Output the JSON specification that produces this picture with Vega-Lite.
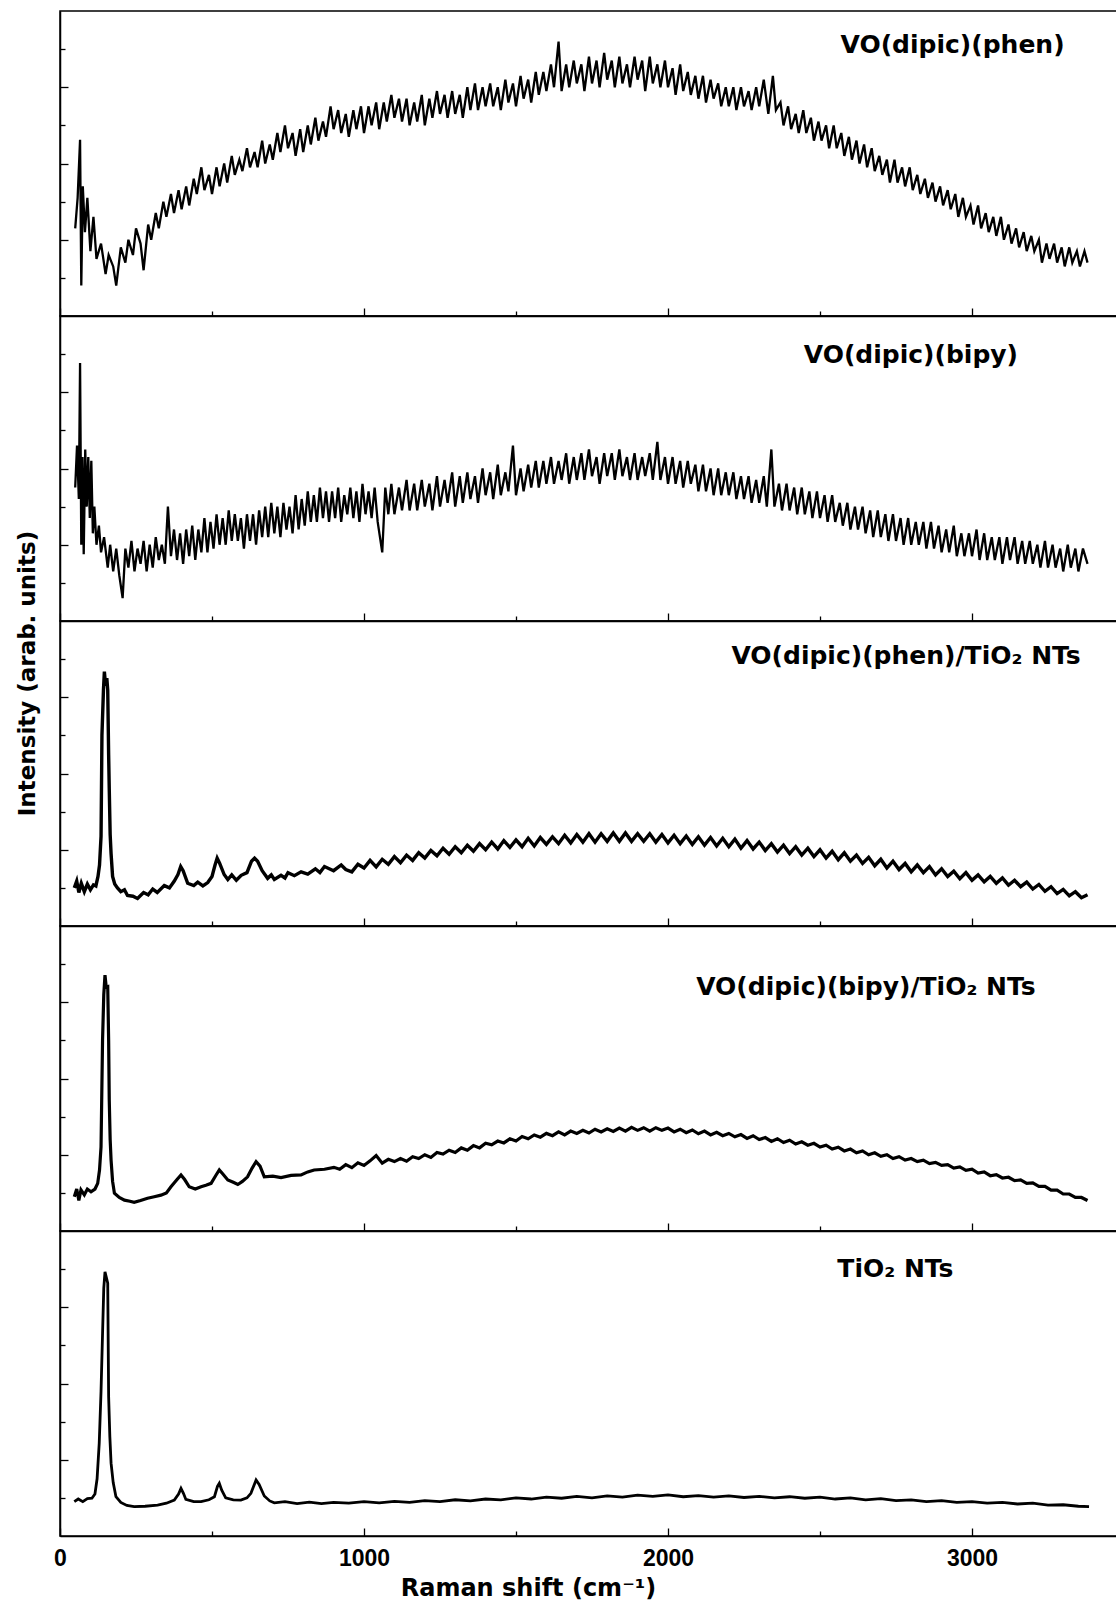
{
"$schema": "https://vega.github.io/schema/vega-lite/v6.json",
"padding": {"left": 15, "top": 10, "right": 0, "bottom": 5},
"background": "white",
"spacing": 0,
"bounds": "flush",
"config": {
  "view": {"stroke": "#000", "strokeWidth": 1.5},
  "axis": {"domainColor": "#000", "domainWidth": 1.5, "tickColor": "#000", "tickWidth": 1.3, "grid": false}
},
"datasets": {
"p1": [{"x":50,"y":2.3},{"x":58,"y":3.1},{"x":66,"y":4.62},{"x":70,"y":0.8},{"x":75,"y":3.4},{"x":82,"y":2.2},{"x":90,"y":3.1},{"x":100,"y":1.7},{"x":110,"y":2.6},{"x":120,"y":1.5},{"x":135,"y":1.9},{"x":150,"y":1.1},{"x":160,"y":1.6},{"x":175,"y":1.3},{"x":185,"y":0.8},{"x":200,"y":1.8},{"x":215,"y":1.4},{"x":225,"y":2.0},{"x":240,"y":1.6},{"x":250,"y":2.3},{"x":265,"y":1.9},{"x":275,"y":1.2},{"x":290,"y":2.4},{"x":300,"y":2.0},{"x":315,"y":2.7},{"x":325,"y":2.3},{"x":340,"y":3.0},{"x":350,"y":2.6},{"x":365,"y":3.2},{"x":375,"y":2.7},{"x":390,"y":3.3},{"x":400,"y":2.8},{"x":415,"y":3.4},{"x":425,"y":2.9},{"x":440,"y":3.6},{"x":450,"y":3.2},{"x":465,"y":3.9},{"x":475,"y":3.3},{"x":490,"y":3.7},{"x":500,"y":3.2},{"x":515,"y":3.9},{"x":525,"y":3.4},{"x":540,"y":4.0},{"x":550,"y":3.5},{"x":565,"y":4.2},{"x":575,"y":3.7},{"x":590,"y":4.1},{"x":600,"y":3.8},{"x":615,"y":4.4},{"x":625,"y":3.9},{"x":640,"y":4.3},{"x":650,"y":3.9},{"x":665,"y":4.6},{"x":675,"y":4.0},{"x":690,"y":4.5},{"x":700,"y":4.1},{"x":715,"y":4.8},{"x":725,"y":4.3},{"x":740,"y":5.0},{"x":750,"y":4.4},{"x":765,"y":4.8},{"x":775,"y":4.2},{"x":790,"y":4.9},{"x":800,"y":4.3},{"x":815,"y":5.0},{"x":825,"y":4.5},{"x":840,"y":5.2},{"x":850,"y":4.6},{"x":865,"y":5.1},{"x":875,"y":4.7},{"x":890,"y":5.5},{"x":900,"y":4.9},{"x":915,"y":5.4},{"x":925,"y":4.8},{"x":940,"y":5.3},{"x":950,"y":4.7},{"x":965,"y":5.4},{"x":975,"y":4.9},{"x":990,"y":5.5},{"x":1000,"y":4.8},{"x":1015,"y":5.5},{"x":1025,"y":5.0},{"x":1040,"y":5.6},{"x":1050,"y":4.9},{"x":1065,"y":5.6},{"x":1075,"y":5.1},{"x":1090,"y":5.8},{"x":1100,"y":5.2},{"x":1115,"y":5.7},{"x":1125,"y":5.1},{"x":1140,"y":5.7},{"x":1150,"y":5.0},{"x":1165,"y":5.6},{"x":1175,"y":5.1},{"x":1190,"y":5.8},{"x":1200,"y":5.0},{"x":1215,"y":5.7},{"x":1225,"y":5.2},{"x":1240,"y":5.9},{"x":1250,"y":5.3},{"x":1265,"y":5.8},{"x":1275,"y":5.2},{"x":1290,"y":5.9},{"x":1300,"y":5.3},{"x":1315,"y":5.8},{"x":1325,"y":5.2},{"x":1340,"y":6.0},{"x":1350,"y":5.4},{"x":1365,"y":6.1},{"x":1375,"y":5.4},{"x":1390,"y":6.0},{"x":1400,"y":5.5},{"x":1415,"y":6.1},{"x":1425,"y":5.5},{"x":1440,"y":6.0},{"x":1450,"y":5.4},{"x":1465,"y":6.2},{"x":1475,"y":5.6},{"x":1490,"y":6.1},{"x":1500,"y":5.5},{"x":1515,"y":6.3},{"x":1525,"y":5.7},{"x":1540,"y":6.2},{"x":1550,"y":5.6},{"x":1565,"y":6.4},{"x":1575,"y":5.8},{"x":1590,"y":6.4},{"x":1600,"y":5.9},{"x":1615,"y":6.6},{"x":1625,"y":6.0},{"x":1640,"y":7.2},{"x":1650,"y":5.9},{"x":1665,"y":6.6},{"x":1675,"y":6.0},{"x":1690,"y":6.7},{"x":1700,"y":6.1},{"x":1715,"y":6.6},{"x":1725,"y":5.9},{"x":1740,"y":6.8},{"x":1750,"y":6.1},{"x":1765,"y":6.7},{"x":1775,"y":6.0},{"x":1790,"y":6.9},{"x":1800,"y":6.2},{"x":1815,"y":6.7},{"x":1825,"y":6.0},{"x":1840,"y":6.8},{"x":1850,"y":6.1},{"x":1865,"y":6.6},{"x":1875,"y":6.0},{"x":1890,"y":6.8},{"x":1900,"y":6.2},{"x":1915,"y":6.7},{"x":1925,"y":5.9},{"x":1940,"y":6.8},{"x":1950,"y":6.1},{"x":1965,"y":6.6},{"x":1975,"y":6.0},{"x":1990,"y":6.7},{"x":2000,"y":6.0},{"x":2015,"y":6.5},{"x":2025,"y":5.8},{"x":2040,"y":6.6},{"x":2050,"y":5.9},{"x":2065,"y":6.4},{"x":2075,"y":5.8},{"x":2090,"y":6.3},{"x":2100,"y":5.7},{"x":2115,"y":6.3},{"x":2125,"y":5.6},{"x":2140,"y":6.2},{"x":2150,"y":5.7},{"x":2165,"y":6.1},{"x":2175,"y":5.5},{"x":2190,"y":6.0},{"x":2200,"y":5.5},{"x":2215,"y":6.0},{"x":2225,"y":5.4},{"x":2240,"y":6.0},{"x":2250,"y":5.5},{"x":2265,"y":5.9},{"x":2275,"y":5.4},{"x":2290,"y":6.0},{"x":2300,"y":5.5},{"x":2315,"y":6.2},{"x":2330,"y":5.3},{"x":2345,"y":6.3},{"x":2355,"y":5.4},{"x":2370,"y":5.6},{"x":2380,"y":5.0},{"x":2395,"y":5.5},{"x":2405,"y":4.9},{"x":2420,"y":5.3},{"x":2430,"y":4.8},{"x":2445,"y":5.4},{"x":2455,"y":4.8},{"x":2470,"y":5.2},{"x":2480,"y":4.6},{"x":2495,"y":5.1},{"x":2505,"y":4.6},{"x":2520,"y":5.0},{"x":2530,"y":4.4},{"x":2545,"y":5.0},{"x":2555,"y":4.4},{"x":2570,"y":4.8},{"x":2580,"y":4.2},{"x":2595,"y":4.7},{"x":2605,"y":4.1},{"x":2620,"y":4.6},{"x":2630,"y":4.0},{"x":2645,"y":4.5},{"x":2655,"y":3.9},{"x":2670,"y":4.4},{"x":2680,"y":3.8},{"x":2695,"y":4.2},{"x":2705,"y":3.7},{"x":2720,"y":4.1},{"x":2730,"y":3.5},{"x":2745,"y":4.1},{"x":2755,"y":3.5},{"x":2770,"y":3.9},{"x":2780,"y":3.4},{"x":2795,"y":3.9},{"x":2805,"y":3.3},{"x":2820,"y":3.7},{"x":2830,"y":3.2},{"x":2845,"y":3.6},{"x":2855,"y":3.1},{"x":2870,"y":3.5},{"x":2880,"y":3.0},{"x":2895,"y":3.4},{"x":2905,"y":2.9},{"x":2920,"y":3.3},{"x":2930,"y":2.8},{"x":2945,"y":3.2},{"x":2955,"y":2.6},{"x":2970,"y":3.1},{"x":2980,"y":2.6},{"x":2995,"y":2.9},{"x":3005,"y":2.4},{"x":3020,"y":2.9},{"x":3030,"y":2.3},{"x":3045,"y":2.7},{"x":3055,"y":2.2},{"x":3070,"y":2.6},{"x":3080,"y":2.1},{"x":3095,"y":2.6},{"x":3105,"y":2.0},{"x":3120,"y":2.4},{"x":3130,"y":1.9},{"x":3145,"y":2.3},{"x":3155,"y":1.8},{"x":3170,"y":2.2},{"x":3180,"y":1.7},{"x":3195,"y":2.1},{"x":3205,"y":1.7},{"x":3220,"y":2.0},{"x":3230,"y":1.4},{"x":3245,"y":1.9},{"x":3255,"y":1.5},{"x":3270,"y":1.9},{"x":3280,"y":1.4},{"x":3295,"y":1.8},{"x":3305,"y":1.3},{"x":3320,"y":1.8},{"x":3330,"y":1.4},{"x":3345,"y":1.7},{"x":3355,"y":1.3},{"x":3370,"y":1.7},{"x":3380,"y":1.4}],
"p2": [{"x":50,"y":3.5},{"x":56,"y":4.6},{"x":62,"y":3.2},{"x":66,"y":6.77},{"x":70,"y":2.0},{"x":74,"y":4.3},{"x":78,"y":1.75},{"x":83,"y":4.5},{"x":88,"y":3.0},{"x":93,"y":4.3},{"x":98,"y":2.7},{"x":103,"y":4.2},{"x":108,"y":2.3},{"x":113,"y":3.0},{"x":120,"y":2.0},{"x":128,"y":2.5},{"x":135,"y":1.8},{"x":145,"y":2.2},{"x":157,"y":1.4},{"x":165,"y":2.0},{"x":175,"y":1.3},{"x":185,"y":1.9},{"x":195,"y":1.2},{"x":206,"y":0.6},{"x":215,"y":1.9},{"x":225,"y":1.4},{"x":235,"y":2.1},{"x":245,"y":1.3},{"x":255,"y":1.9},{"x":265,"y":1.5},{"x":275,"y":2.1},{"x":285,"y":1.3},{"x":295,"y":2.0},{"x":305,"y":1.4},{"x":315,"y":2.2},{"x":325,"y":1.6},{"x":335,"y":2.0},{"x":345,"y":1.5},{"x":355,"y":3.0},{"x":365,"y":1.7},{"x":375,"y":2.4},{"x":385,"y":1.6},{"x":395,"y":2.3},{"x":405,"y":1.5},{"x":415,"y":2.4},{"x":425,"y":1.7},{"x":435,"y":2.5},{"x":445,"y":1.6},{"x":455,"y":2.4},{"x":465,"y":1.8},{"x":475,"y":2.7},{"x":485,"y":1.8},{"x":495,"y":2.6},{"x":505,"y":1.9},{"x":515,"y":2.8},{"x":525,"y":2.0},{"x":535,"y":2.7},{"x":545,"y":2.0},{"x":555,"y":2.9},{"x":565,"y":2.1},{"x":575,"y":2.8},{"x":585,"y":2.1},{"x":595,"y":2.7},{"x":605,"y":1.9},{"x":615,"y":2.8},{"x":625,"y":2.1},{"x":635,"y":2.8},{"x":645,"y":2.0},{"x":655,"y":2.9},{"x":665,"y":2.2},{"x":675,"y":3.0},{"x":685,"y":2.2},{"x":695,"y":3.1},{"x":705,"y":2.3},{"x":715,"y":3.0},{"x":725,"y":2.2},{"x":735,"y":3.1},{"x":745,"y":2.4},{"x":755,"y":3.0},{"x":765,"y":2.3},{"x":775,"y":3.3},{"x":785,"y":2.4},{"x":795,"y":3.2},{"x":805,"y":2.5},{"x":815,"y":3.4},{"x":825,"y":2.6},{"x":835,"y":3.3},{"x":845,"y":2.6},{"x":855,"y":3.5},{"x":865,"y":2.7},{"x":875,"y":3.4},{"x":885,"y":2.6},{"x":895,"y":3.4},{"x":905,"y":2.7},{"x":915,"y":3.5},{"x":925,"y":2.6},{"x":935,"y":3.3},{"x":945,"y":2.8},{"x":955,"y":3.5},{"x":965,"y":2.7},{"x":975,"y":3.4},{"x":985,"y":2.6},{"x":995,"y":3.6},{"x":1005,"y":2.8},{"x":1015,"y":3.4},{"x":1025,"y":2.7},{"x":1035,"y":3.5},{"x":1045,"y":2.6},{"x":1060,"y":1.8},{"x":1070,"y":3.5},{"x":1080,"y":2.8},{"x":1090,"y":3.6},{"x":1100,"y":2.8},{"x":1115,"y":3.5},{"x":1125,"y":2.9},{"x":1140,"y":3.7},{"x":1150,"y":2.9},{"x":1165,"y":3.6},{"x":1175,"y":2.9},{"x":1190,"y":3.7},{"x":1200,"y":3.0},{"x":1215,"y":3.6},{"x":1225,"y":2.9},{"x":1240,"y":3.8},{"x":1250,"y":3.0},{"x":1265,"y":3.7},{"x":1275,"y":3.1},{"x":1290,"y":3.9},{"x":1300,"y":3.0},{"x":1315,"y":3.8},{"x":1325,"y":3.1},{"x":1340,"y":3.9},{"x":1350,"y":3.2},{"x":1365,"y":3.8},{"x":1375,"y":3.1},{"x":1390,"y":4.0},{"x":1400,"y":3.3},{"x":1415,"y":3.9},{"x":1425,"y":3.2},{"x":1440,"y":4.1},{"x":1450,"y":3.3},{"x":1465,"y":3.9},{"x":1475,"y":3.4},{"x":1490,"y":4.6},{"x":1500,"y":3.3},{"x":1515,"y":4.0},{"x":1525,"y":3.4},{"x":1540,"y":4.1},{"x":1550,"y":3.5},{"x":1565,"y":4.2},{"x":1575,"y":3.5},{"x":1590,"y":4.2},{"x":1600,"y":3.6},{"x":1615,"y":4.3},{"x":1625,"y":3.6},{"x":1640,"y":4.2},{"x":1650,"y":3.7},{"x":1665,"y":4.4},{"x":1675,"y":3.6},{"x":1690,"y":4.3},{"x":1700,"y":3.7},{"x":1715,"y":4.4},{"x":1725,"y":3.7},{"x":1740,"y":4.5},{"x":1750,"y":3.8},{"x":1765,"y":4.3},{"x":1775,"y":3.6},{"x":1790,"y":4.4},{"x":1800,"y":3.8},{"x":1815,"y":4.4},{"x":1825,"y":3.7},{"x":1840,"y":4.5},{"x":1850,"y":3.8},{"x":1865,"y":4.3},{"x":1875,"y":3.7},{"x":1890,"y":4.4},{"x":1900,"y":3.7},{"x":1915,"y":4.3},{"x":1925,"y":3.8},{"x":1940,"y":4.4},{"x":1950,"y":3.7},{"x":1965,"y":4.7},{"x":1975,"y":3.7},{"x":1990,"y":4.3},{"x":2000,"y":3.6},{"x":2015,"y":4.3},{"x":2025,"y":3.6},{"x":2040,"y":4.2},{"x":2050,"y":3.5},{"x":2065,"y":4.2},{"x":2075,"y":3.6},{"x":2090,"y":4.1},{"x":2100,"y":3.4},{"x":2115,"y":4.1},{"x":2125,"y":3.4},{"x":2140,"y":4.0},{"x":2150,"y":3.3},{"x":2165,"y":4.0},{"x":2175,"y":3.3},{"x":2190,"y":3.9},{"x":2200,"y":3.3},{"x":2215,"y":3.9},{"x":2225,"y":3.2},{"x":2240,"y":3.8},{"x":2250,"y":3.2},{"x":2265,"y":3.8},{"x":2275,"y":3.1},{"x":2290,"y":3.7},{"x":2300,"y":3.1},{"x":2315,"y":3.8},{"x":2325,"y":3.0},{"x":2340,"y":4.5},{"x":2350,"y":3.0},{"x":2365,"y":3.6},{"x":2375,"y":2.9},{"x":2390,"y":3.6},{"x":2400,"y":2.9},{"x":2415,"y":3.5},{"x":2425,"y":2.8},{"x":2440,"y":3.5},{"x":2450,"y":2.8},{"x":2465,"y":3.4},{"x":2475,"y":2.7},{"x":2490,"y":3.4},{"x":2500,"y":2.7},{"x":2515,"y":3.3},{"x":2525,"y":2.6},{"x":2540,"y":3.3},{"x":2550,"y":2.6},{"x":2565,"y":3.1},{"x":2575,"y":2.5},{"x":2590,"y":3.1},{"x":2600,"y":2.4},{"x":2615,"y":3.0},{"x":2625,"y":2.4},{"x":2640,"y":3.0},{"x":2650,"y":2.3},{"x":2665,"y":2.9},{"x":2675,"y":2.2},{"x":2690,"y":2.9},{"x":2700,"y":2.2},{"x":2715,"y":2.8},{"x":2725,"y":2.1},{"x":2740,"y":2.8},{"x":2750,"y":2.1},{"x":2765,"y":2.7},{"x":2775,"y":2.0},{"x":2790,"y":2.7},{"x":2800,"y":2.0},{"x":2815,"y":2.6},{"x":2825,"y":2.0},{"x":2840,"y":2.6},{"x":2850,"y":1.9},{"x":2865,"y":2.6},{"x":2875,"y":1.9},{"x":2890,"y":2.5},{"x":2900,"y":1.8},{"x":2915,"y":2.4},{"x":2925,"y":1.8},{"x":2940,"y":2.5},{"x":2950,"y":1.7},{"x":2965,"y":2.3},{"x":2975,"y":1.7},{"x":2990,"y":2.3},{"x":3000,"y":1.7},{"x":3015,"y":2.4},{"x":3025,"y":1.6},{"x":3040,"y":2.3},{"x":3050,"y":1.6},{"x":3065,"y":2.2},{"x":3075,"y":1.6},{"x":3090,"y":2.2},{"x":3100,"y":1.5},{"x":3115,"y":2.2},{"x":3125,"y":1.6},{"x":3140,"y":2.2},{"x":3150,"y":1.5},{"x":3165,"y":2.1},{"x":3175,"y":1.5},{"x":3190,"y":2.1},{"x":3200,"y":1.5},{"x":3215,"y":2.0},{"x":3225,"y":1.4},{"x":3240,"y":2.1},{"x":3250,"y":1.4},{"x":3265,"y":2.0},{"x":3275,"y":1.4},{"x":3290,"y":1.9},{"x":3300,"y":1.3},{"x":3315,"y":2.0},{"x":3325,"y":1.4},{"x":3340,"y":1.9},{"x":3350,"y":1.3},{"x":3365,"y":1.9},{"x":3380,"y":1.5}],
"p3": [{"x":47,"y":1.0},{"x":55,"y":1.18},{"x":62,"y":0.88},{"x":70,"y":1.12},{"x":80,"y":0.9},{"x":90,"y":1.1},{"x":100,"y":0.95},{"x":110,"y":1.08},{"x":118,"y":1.05},{"x":125,"y":1.3},{"x":130,"y":1.6},{"x":135,"y":2.35},{"x":138,"y":5.0},{"x":143,"y":6.2},{"x":146,"y":6.67},{"x":150,"y":6.3},{"x":154,"y":6.5},{"x":157,"y":6.19},{"x":160,"y":4.5},{"x":162,"y":3.6},{"x":165,"y":2.4},{"x":168,"y":1.9},{"x":173,"y":1.3},{"x":180,"y":1.1},{"x":189,"y":1.0},{"x":200,"y":0.9},{"x":212,"y":0.95},{"x":222,"y":0.8},{"x":240,"y":0.78},{"x":255,"y":0.72},{"x":275,"y":0.88},{"x":290,"y":0.82},{"x":305,"y":0.97},{"x":320,"y":0.88},{"x":343,"y":1.06},{"x":360,"y":1.0},{"x":376,"y":1.18},{"x":388,"y":1.35},{"x":397,"y":1.56},{"x":405,"y":1.45},{"x":420,"y":1.12},{"x":440,"y":1.06},{"x":453,"y":1.15},{"x":470,"y":1.05},{"x":486,"y":1.14},{"x":500,"y":1.3},{"x":510,"y":1.6},{"x":517,"y":1.78},{"x":525,"y":1.65},{"x":540,"y":1.35},{"x":552,"y":1.22},{"x":565,"y":1.34},{"x":580,"y":1.2},{"x":596,"y":1.33},{"x":615,"y":1.4},{"x":630,"y":1.7},{"x":640,"y":1.78},{"x":650,"y":1.7},{"x":665,"y":1.45},{"x":683,"y":1.25},{"x":695,"y":1.34},{"x":705,"y":1.22},{"x":727,"y":1.33},{"x":740,"y":1.26},{"x":750,"y":1.4},{"x":771,"y":1.32},{"x":793,"y":1.42},{"x":815,"y":1.36},{"x":840,"y":1.5},{"x":855,"y":1.4},{"x":870,"y":1.56},{"x":900,"y":1.45},{"x":925,"y":1.6},{"x":940,"y":1.48},{"x":960,"y":1.42},{"x":980,"y":1.62},{"x":1000,"y":1.52},{"x":1020,"y":1.72},{"x":1040,"y":1.55},{"x":1060,"y":1.75},{"x":1080,"y":1.62},{"x":1100,"y":1.82},{"x":1120,"y":1.66},{"x":1140,"y":1.86},{"x":1160,"y":1.72},{"x":1180,"y":1.92},{"x":1200,"y":1.78},{"x":1220,"y":1.98},{"x":1240,"y":1.84},{"x":1260,"y":2.04},{"x":1280,"y":1.88},{"x":1300,"y":2.08},{"x":1320,"y":1.92},{"x":1340,"y":2.12},{"x":1360,"y":1.96},{"x":1380,"y":2.16},{"x":1400,"y":2.0},{"x":1420,"y":2.2},{"x":1440,"y":2.02},{"x":1460,"y":2.24},{"x":1480,"y":2.06},{"x":1500,"y":2.26},{"x":1520,"y":2.08},{"x":1540,"y":2.3},{"x":1560,"y":2.1},{"x":1580,"y":2.32},{"x":1600,"y":2.14},{"x":1620,"y":2.34},{"x":1640,"y":2.16},{"x":1660,"y":2.38},{"x":1680,"y":2.18},{"x":1700,"y":2.4},{"x":1720,"y":2.2},{"x":1740,"y":2.42},{"x":1760,"y":2.2},{"x":1780,"y":2.42},{"x":1800,"y":2.22},{"x":1820,"y":2.44},{"x":1840,"y":2.22},{"x":1860,"y":2.44},{"x":1880,"y":2.22},{"x":1900,"y":2.42},{"x":1920,"y":2.22},{"x":1940,"y":2.42},{"x":1960,"y":2.2},{"x":1980,"y":2.4},{"x":2000,"y":2.18},{"x":2020,"y":2.38},{"x":2040,"y":2.16},{"x":2060,"y":2.36},{"x":2080,"y":2.14},{"x":2100,"y":2.34},{"x":2120,"y":2.12},{"x":2140,"y":2.32},{"x":2160,"y":2.1},{"x":2180,"y":2.3},{"x":2200,"y":2.08},{"x":2220,"y":2.28},{"x":2240,"y":2.04},{"x":2260,"y":2.24},{"x":2280,"y":2.02},{"x":2300,"y":2.2},{"x":2320,"y":1.98},{"x":2340,"y":2.16},{"x":2360,"y":1.94},{"x":2380,"y":2.12},{"x":2400,"y":1.9},{"x":2420,"y":2.08},{"x":2440,"y":1.86},{"x":2460,"y":2.04},{"x":2480,"y":1.82},{"x":2500,"y":2.0},{"x":2520,"y":1.78},{"x":2540,"y":1.96},{"x":2560,"y":1.74},{"x":2580,"y":1.92},{"x":2600,"y":1.7},{"x":2620,"y":1.86},{"x":2640,"y":1.64},{"x":2660,"y":1.8},{"x":2680,"y":1.58},{"x":2700,"y":1.75},{"x":2720,"y":1.52},{"x":2740,"y":1.7},{"x":2760,"y":1.48},{"x":2780,"y":1.64},{"x":2800,"y":1.42},{"x":2820,"y":1.6},{"x":2840,"y":1.4},{"x":2860,"y":1.56},{"x":2880,"y":1.34},{"x":2900,"y":1.5},{"x":2920,"y":1.3},{"x":2940,"y":1.44},{"x":2960,"y":1.24},{"x":2980,"y":1.4},{"x":3000,"y":1.2},{"x":3020,"y":1.34},{"x":3040,"y":1.16},{"x":3060,"y":1.3},{"x":3080,"y":1.12},{"x":3100,"y":1.26},{"x":3120,"y":1.07},{"x":3140,"y":1.2},{"x":3160,"y":1.03},{"x":3180,"y":1.15},{"x":3200,"y":0.97},{"x":3220,"y":1.09},{"x":3240,"y":0.91},{"x":3260,"y":1.03},{"x":3280,"y":0.85},{"x":3300,"y":0.96},{"x":3320,"y":0.79},{"x":3340,"y":0.9},{"x":3360,"y":0.74},{"x":3380,"y":0.82}],
"p4": [{"x":47,"y":0.9},{"x":55,"y":1.1},{"x":62,"y":0.8},{"x":69,"y":1.08},{"x":80,"y":0.95},{"x":90,"y":1.1},{"x":102,"y":1.03},{"x":115,"y":1.1},{"x":124,"y":1.25},{"x":130,"y":1.6},{"x":135,"y":2.21},{"x":140,"y":5.01},{"x":144,"y":6.2},{"x":148,"y":6.71},{"x":152,"y":6.4},{"x":157,"y":6.41},{"x":160,"y":5.0},{"x":162,"y":3.44},{"x":165,"y":2.4},{"x":168,"y":1.86},{"x":173,"y":1.3},{"x":179,"y":0.99},{"x":195,"y":0.88},{"x":212,"y":0.81},{"x":230,"y":0.78},{"x":244,"y":0.75},{"x":265,"y":0.8},{"x":288,"y":0.86},{"x":310,"y":0.9},{"x":332,"y":0.94},{"x":350,"y":1.0},{"x":365,"y":1.16},{"x":385,"y":1.35},{"x":398,"y":1.47},{"x":410,"y":1.35},{"x":425,"y":1.16},{"x":445,"y":1.1},{"x":464,"y":1.16},{"x":480,"y":1.2},{"x":497,"y":1.25},{"x":512,"y":1.45},{"x":524,"y":1.6},{"x":535,"y":1.5},{"x":552,"y":1.34},{"x":570,"y":1.28},{"x":585,"y":1.22},{"x":600,"y":1.3},{"x":617,"y":1.42},{"x":632,"y":1.65},{"x":645,"y":1.82},{"x":658,"y":1.7},{"x":672,"y":1.42},{"x":700,"y":1.44},{"x":727,"y":1.4},{"x":760,"y":1.46},{"x":793,"y":1.47},{"x":815,"y":1.55},{"x":836,"y":1.6},{"x":870,"y":1.62},{"x":901,"y":1.67},{"x":920,"y":1.62},{"x":940,"y":1.74},{"x":960,"y":1.66},{"x":980,"y":1.79},{"x":1000,"y":1.72},{"x":1020,"y":1.84},{"x":1040,"y":1.98},{"x":1060,"y":1.78},{"x":1080,"y":1.88},{"x":1100,"y":1.82},{"x":1120,"y":1.9},{"x":1140,"y":1.83},{"x":1160,"y":1.95},{"x":1180,"y":1.9},{"x":1200,"y":2.0},{"x":1220,"y":1.93},{"x":1240,"y":2.06},{"x":1260,"y":2.02},{"x":1280,"y":2.12},{"x":1300,"y":2.06},{"x":1320,"y":2.18},{"x":1340,"y":2.12},{"x":1360,"y":2.24},{"x":1380,"y":2.18},{"x":1400,"y":2.3},{"x":1420,"y":2.26},{"x":1440,"y":2.36},{"x":1460,"y":2.31},{"x":1480,"y":2.42},{"x":1500,"y":2.36},{"x":1520,"y":2.48},{"x":1540,"y":2.42},{"x":1560,"y":2.52},{"x":1580,"y":2.46},{"x":1600,"y":2.56},{"x":1620,"y":2.5},{"x":1640,"y":2.6},{"x":1660,"y":2.52},{"x":1680,"y":2.62},{"x":1700,"y":2.56},{"x":1720,"y":2.64},{"x":1740,"y":2.57},{"x":1760,"y":2.67},{"x":1780,"y":2.6},{"x":1800,"y":2.68},{"x":1820,"y":2.61},{"x":1840,"y":2.7},{"x":1860,"y":2.62},{"x":1880,"y":2.72},{"x":1900,"y":2.64},{"x":1920,"y":2.71},{"x":1940,"y":2.62},{"x":1960,"y":2.71},{"x":1980,"y":2.64},{"x":2000,"y":2.7},{"x":2020,"y":2.6},{"x":2040,"y":2.67},{"x":2060,"y":2.58},{"x":2080,"y":2.65},{"x":2100,"y":2.55},{"x":2120,"y":2.62},{"x":2140,"y":2.52},{"x":2160,"y":2.59},{"x":2180,"y":2.5},{"x":2200,"y":2.56},{"x":2220,"y":2.47},{"x":2240,"y":2.53},{"x":2260,"y":2.43},{"x":2280,"y":2.5},{"x":2300,"y":2.4},{"x":2320,"y":2.45},{"x":2340,"y":2.35},{"x":2360,"y":2.42},{"x":2380,"y":2.32},{"x":2400,"y":2.38},{"x":2420,"y":2.28},{"x":2440,"y":2.34},{"x":2460,"y":2.25},{"x":2480,"y":2.3},{"x":2500,"y":2.2},{"x":2520,"y":2.25},{"x":2540,"y":2.15},{"x":2560,"y":2.2},{"x":2580,"y":2.1},{"x":2600,"y":2.15},{"x":2620,"y":2.05},{"x":2640,"y":2.1},{"x":2660,"y":2.0},{"x":2680,"y":2.05},{"x":2700,"y":1.96},{"x":2720,"y":2.0},{"x":2740,"y":1.9},{"x":2760,"y":1.95},{"x":2780,"y":1.86},{"x":2800,"y":1.9},{"x":2820,"y":1.82},{"x":2840,"y":1.86},{"x":2860,"y":1.77},{"x":2880,"y":1.8},{"x":2900,"y":1.72},{"x":2920,"y":1.74},{"x":2940,"y":1.65},{"x":2960,"y":1.68},{"x":2980,"y":1.59},{"x":3000,"y":1.62},{"x":3020,"y":1.52},{"x":3040,"y":1.55},{"x":3060,"y":1.45},{"x":3080,"y":1.48},{"x":3100,"y":1.39},{"x":3120,"y":1.41},{"x":3140,"y":1.32},{"x":3160,"y":1.34},{"x":3180,"y":1.25},{"x":3200,"y":1.26},{"x":3220,"y":1.17},{"x":3240,"y":1.17},{"x":3260,"y":1.07},{"x":3280,"y":1.07},{"x":3300,"y":0.97},{"x":3320,"y":0.97},{"x":3340,"y":0.88},{"x":3360,"y":0.88},{"x":3380,"y":0.8}],
"p5": [{"x":47,"y":0.9},{"x":60,"y":0.97},{"x":75,"y":0.9},{"x":90,"y":0.98},{"x":105,"y":0.99},{"x":115,"y":1.1},{"x":122,"y":1.5},{"x":129,"y":2.43},{"x":135,"y":3.8},{"x":140,"y":5.32},{"x":144,"y":6.5},{"x":148,"y":6.93},{"x":152,"y":6.8},{"x":157,"y":6.63},{"x":160,"y":3.65},{"x":164,"y":2.6},{"x":168,"y":1.91},{"x":175,"y":1.4},{"x":184,"y":1.03},{"x":200,"y":0.88},{"x":220,"y":0.8},{"x":244,"y":0.77},{"x":280,"y":0.78},{"x":321,"y":0.81},{"x":350,"y":0.86},{"x":376,"y":0.94},{"x":390,"y":1.1},{"x":398,"y":1.25},{"x":406,"y":1.12},{"x":414,"y":0.96},{"x":440,"y":0.9},{"x":464,"y":0.9},{"x":490,"y":0.95},{"x":508,"y":1.03},{"x":518,"y":1.3},{"x":524,"y":1.38},{"x":532,"y":1.2},{"x":545,"y":1.0},{"x":570,"y":0.95},{"x":595,"y":0.94},{"x":615,"y":1.0},{"x":628,"y":1.12},{"x":645,"y":1.47},{"x":655,"y":1.35},{"x":672,"y":1.05},{"x":690,"y":0.92},{"x":705,"y":0.87},{"x":740,"y":0.9},{"x":780,"y":0.85},{"x":820,"y":0.89},{"x":860,"y":0.85},{"x":900,"y":0.88},{"x":950,"y":0.86},{"x":1000,"y":0.9},{"x":1050,"y":0.87},{"x":1100,"y":0.91},{"x":1150,"y":0.88},{"x":1200,"y":0.93},{"x":1250,"y":0.9},{"x":1300,"y":0.95},{"x":1350,"y":0.92},{"x":1400,"y":0.97},{"x":1450,"y":0.95},{"x":1500,"y":1.0},{"x":1550,"y":0.97},{"x":1600,"y":1.02},{"x":1650,"y":0.99},{"x":1700,"y":1.04},{"x":1750,"y":1.0},{"x":1800,"y":1.05},{"x":1850,"y":1.02},{"x":1900,"y":1.07},{"x":1950,"y":1.04},{"x":2000,"y":1.08},{"x":2050,"y":1.03},{"x":2100,"y":1.06},{"x":2150,"y":1.02},{"x":2200,"y":1.05},{"x":2250,"y":1.01},{"x":2300,"y":1.04},{"x":2350,"y":1.0},{"x":2400,"y":1.03},{"x":2450,"y":0.99},{"x":2500,"y":1.02},{"x":2550,"y":0.97},{"x":2600,"y":1.0},{"x":2650,"y":0.95},{"x":2700,"y":0.98},{"x":2750,"y":0.93},{"x":2800,"y":0.95},{"x":2850,"y":0.9},{"x":2900,"y":0.93},{"x":2950,"y":0.88},{"x":3000,"y":0.9},{"x":3050,"y":0.86},{"x":3100,"y":0.88},{"x":3150,"y":0.84},{"x":3200,"y":0.86},{"x":3250,"y":0.81},{"x":3300,"y":0.82},{"x":3350,"y":0.78},{"x":3385,"y":0.77}]
},
"vconcat": [
{
  "width": 1064, "height": 305,
  "encoding": {
    "x": {"field": "x", "type": "quantitative", "scale": {"domain": [0, 3500], "nice": false, "zero": false},
      "axis": {"values": [0,500,1000,1500,2000,2500,3000], "labels": false, "title": null, "tickSize": {"condition": {"test": "datum.value % 1000 === 0", "value": -8}, "value": -5}}},
    "y": {"field": "y", "type": "quantitative", "scale": {"domain": [0, 8], "nice": false, "zero": false},
      "axis": {"values": [1,2,3,4,5,6,7], "labels": false, "title": null, "tickSize": {"condition": {"test": "datum.value % 2 === 0", "value": -8}, "value": -5}}}
  },
  "layer": [
    {"data": {"name": "p1"}, "mark": {"type": "line", "color": "#000", "strokeWidth": 2.3, "clip": true}},
    {"data": {"values": [{"x": 2936, "y": 7.12, "label": "VO(dipic)(phen)"}]},
     "mark": {"type": "text", "font": "DejaVu Sans", "fontWeight": "bold", "fontSize": 25, "align": "center", "baseline": "middle", "color": "#000"},
     "encoding": {"text": {"field": "label"}}}
  ]
},
{
  "width": 1064, "height": 305,
  "encoding": {
    "x": {"field": "x", "type": "quantitative", "scale": {"domain": [0, 3500], "nice": false, "zero": false},
      "axis": {"values": [0,500,1000,1500,2000,2500,3000], "labels": false, "title": null, "tickSize": {"condition": {"test": "datum.value % 1000 === 0", "value": -8}, "value": -5}}},
    "y": {"field": "y", "type": "quantitative", "scale": {"domain": [0, 8], "nice": false, "zero": false},
      "axis": {"values": [1,2,3,4,5,6,7], "labels": false, "title": null, "tickSize": {"condition": {"test": "datum.value % 2 === 0", "value": -8}, "value": -5}}}
  },
  "layer": [
    {"data": {"name": "p2"}, "mark": {"type": "line", "color": "#000", "strokeWidth": 2.3, "clip": true}},
    {"data": {"values": [{"x": 2799, "y": 6.99, "label": "VO(dipic)(bipy)"}]},
     "mark": {"type": "text", "font": "DejaVu Sans", "fontWeight": "bold", "fontSize": 25, "align": "center", "baseline": "middle", "color": "#000"},
     "encoding": {"text": {"field": "label"}}}
  ]
},
{
  "width": 1064, "height": 305,
  "encoding": {
    "x": {"field": "x", "type": "quantitative", "scale": {"domain": [0, 3500], "nice": false, "zero": false},
      "axis": {"values": [0,500,1000,1500,2000,2500,3000], "labels": false, "title": null, "tickSize": {"condition": {"test": "datum.value % 1000 === 0", "value": -8}, "value": -5}}},
    "y": {"field": "y", "type": "quantitative", "scale": {"domain": [0, 8], "nice": false, "zero": false},
      "axis": {"values": [1,2,3,4,5,6,7], "labels": false, "tickSize": {"condition": {"test": "datum.value % 2 === 0", "value": -8}, "value": -5},
        "title": "Intensity (arab. units)", "titleFont": "DejaVu Sans", "titleFontSize": 23, "titleFontWeight": "bold", "titleColor": "#000",
        "titleAngle": 270, "titleX": -26, "titleY": 52, "titleBaseline": "alphabetic", "titleAlign": "center"}}
  },
  "layer": [
    {"data": {"name": "p3"}, "mark": {"type": "line", "color": "#000", "strokeWidth": 3.4, "clip": true}},
    {"data": {"values": [{"x": 2783, "y": 7.08, "label": "VO(dipic)(phen)/TiO₂ NTs"}]},
     "mark": {"type": "text", "font": "DejaVu Sans", "fontWeight": "bold", "fontSize": 25, "align": "center", "baseline": "middle", "color": "#000"},
     "encoding": {"text": {"field": "label"}}}
  ]
},
{
  "width": 1064, "height": 305,
  "encoding": {
    "x": {"field": "x", "type": "quantitative", "scale": {"domain": [0, 3500], "nice": false, "zero": false},
      "axis": {"values": [0,500,1000,1500,2000,2500,3000], "labels": false, "title": null, "tickSize": {"condition": {"test": "datum.value % 1000 === 0", "value": -8}, "value": -5}}},
    "y": {"field": "y", "type": "quantitative", "scale": {"domain": [0, 8], "nice": false, "zero": false},
      "axis": {"values": [1,2,3,4,5,6,7], "labels": false, "title": null, "tickSize": {"condition": {"test": "datum.value % 2 === 0", "value": -8}, "value": -5}}}
  },
  "layer": [
    {"data": {"name": "p4"}, "mark": {"type": "line", "color": "#000", "strokeWidth": 3.2, "clip": true}},
    {"data": {"values": [{"x": 2651, "y": 6.41, "label": "VO(dipic)(bipy)/TiO₂ NTs"}]},
     "mark": {"type": "text", "font": "DejaVu Sans", "fontWeight": "bold", "fontSize": 25, "align": "center", "baseline": "middle", "color": "#000"},
     "encoding": {"text": {"field": "label"}}}
  ]
},
{
  "width": 1064, "height": 305,
  "encoding": {
    "x": {"field": "x", "type": "quantitative", "scale": {"domain": [0, 3500], "nice": false, "zero": false},
      "axis": {"values": [0,500,1000,1500,2000,2500,3000], "tickSize": {"condition": {"test": "datum.value % 1000 === 0", "value": -8}, "value": -5},
        "labels": true, "labelExpr": "datum.value % 1000 === 0 ? datum.label : ''", "format": "d",
        "labelFont": "Liberation Sans", "labelFontSize": 23, "labelFontWeight": "bold", "labelColor": "#000",
        "labelBaseline": "alphabetic", "labelPadding": 37, "labelFlush": false, "labelOverlap": false,
        "title": "Raman shift (cm⁻¹)", "titleFont": "DejaVu Sans", "titleFontSize": 24, "titleFontWeight": "bold", "titleColor": "#000",
        "titleX": 468, "titleY": 59, "titleBaseline": "alphabetic", "titleAlign": "center"}},
    "y": {"field": "y", "type": "quantitative", "scale": {"domain": [0, 8], "nice": false, "zero": false},
      "axis": {"values": [1,2,3,4,5,6,7], "labels": false, "title": null, "tickSize": {"condition": {"test": "datum.value % 2 === 0", "value": -8}, "value": -5}}}
  },
  "layer": [
    {"data": {"name": "p5"}, "mark": {"type": "line", "color": "#000", "strokeWidth": 2.8, "clip": true}},
    {"data": {"values": [{"x": 2748, "y": 7.0, "label": "TiO₂ NTs"}]},
     "mark": {"type": "text", "font": "DejaVu Sans", "fontWeight": "bold", "fontSize": 25, "align": "center", "baseline": "middle", "color": "#000"},
     "encoding": {"text": {"field": "label"}}}
  ]
}
]
}
